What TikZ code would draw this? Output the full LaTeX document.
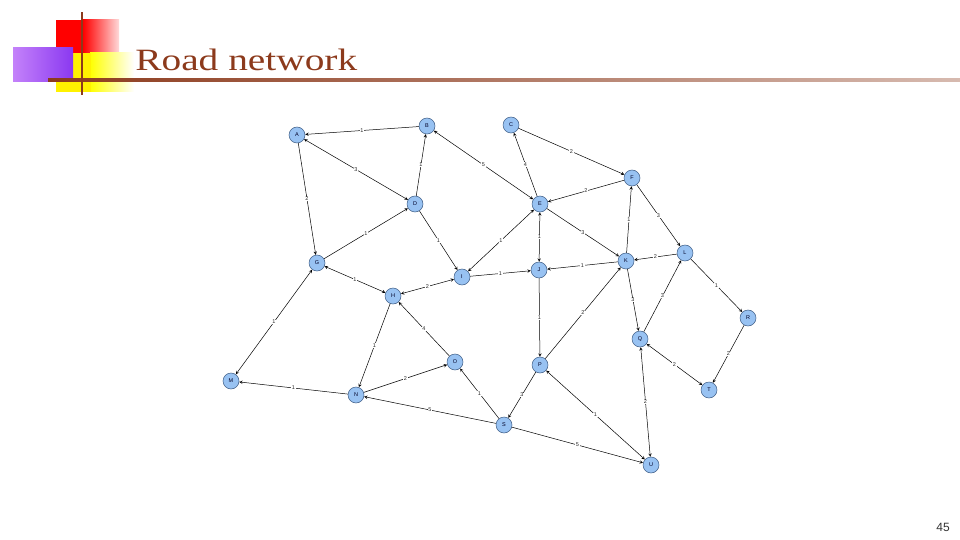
\documentclass[tikz,border=0pt]{standalone}
\usepackage{fontspec}
\setmainfont{Liberation Serif}
\setsansfont{Liberation Sans}
\usepackage{xcolor}
\usetikzlibrary{arrows}
\definecolor{titlebrown}{RGB}{140,58,28}
\definecolor{nodeblue}{RGB}{152,194,242}
\definecolor{nodeedge}{RGB}{60,90,130}
\definecolor{lightpurple}{RGB}{196,130,250}
\definecolor{deeppurple}{RGB}{138,56,240}
\tikzset{
  city/.style={circle, draw=nodeedge, fill=nodeblue, line width=0.5pt, minimum size=16pt, inner sep=0pt,
    font=\sffamily\fontsize{5.5}{5.5}\selectfont, text=black!85!blue},
  wgt/.style={fill=white, inner sep=0.5pt, font=\sffamily\fontsize{5.5}{5.5}\selectfont, text=black!85}
}

\begin{document}
\begin{tikzpicture}[->,>=stealth,x=1pt,y=-1pt,line width=0.5pt]
      \useasboundingbox (0,0) rectangle (960,540);

      % Slide header
      \shade[left color=red, right color=red!15] (83,20) rectangle (119,53);
      \fill[red] (56,20) rectangle (83.5,53);
      \shade[left color=yellow, right color=white] (90,53) rectangle (134,92);
      \fill[yellow] (56,53) rectangle (90.5,92);
      \shade[left color=lightpurple, right color=deeppurple] (13,48) rectangle (73,82);
      \shade[left color=titlebrown, right color=titlebrown!35] (48,78.8) rectangle (960,81.6);
      \fill[titlebrown] (80.5,12) rectangle (83.2,95);
      \node[anchor=base west, font=\fontsize{31}{31}\selectfont, text=titlebrown, xscale=1.27, inner sep=0pt] (title) at (135,71) {Road network};
      \node[font=\sffamily\fontsize{12}{12}\selectfont, text=black!80] (pageno) at (943,527) {45};

      % Cities, top row
      \node[city] (A) at (297,135) {A};
      \node[city] (B) at (427,126) {B};
      \node[city] (C) at (511,125) {C};
      \node[city] (D) at (415,204) {D};
      \node[city] (E) at (540,204) {E};
      \node[city] (F) at (632,178) {F};

      % Cities, middle
      \node[city] (G) at (317,263) {G};
      \node[city] (H) at (393,296) {H};
      \node[city] (I) at (462,277) {I};
      \node[city] (J) at (539,270) {J};
      \node[city] (K) at (626,261) {K};
      \node[city] (L) at (685,253) {L};

      % Cities, bottom
      \node[city] (M) at (231,381) {M};
      \node[city] (N) at (356,395) {N};
      \node[city] (O) at (455,362) {O};
      \node[city] (P) at (540,365) {P};
      \node[city] (Q) at (640,339) {Q};
      \node[city] (R) at (748,318) {R};
      \node[city] (S) at (504,425) {S};
      \node[city] (T) at (709,390) {T};
      \node[city] (U) at (651,465) {U};

      % One-way roads
      \path[every node/.style=wgt]
            (B) edge node {1} (A)
            (A) edge node {2} (G)
            (D) edge node {1} (B)
            (E) edge node {4} (C)
            (C) edge node {2} (F)
            (F) edge node {2} (E)
            (G) edge node {1} (D)
            (D) edge node {1} (I)
            (E) edge node {3} (K)
            (I) edge node {1} (J)
            (K) edge node {1} (J)
            (K) edge node {1} (F)
            (F) edge node {3} (L)
            (L) edge node {2} (K)
            (L) edge node {1} (R)
            (R) edge node {2} (T)
            (Q) edge node {3} (L)
            (K) edge node {3} (Q)
            (P) edge node {2} (K)
            (J) edge node {1} (P)
            (P) edge node {3} (S)
            (S) edge node {1} (O)
            (S) edge node {5} (U)
            (S) edge node {5} (N)
            (N) edge node {2} (O)
            (O) edge node {4} (H)
            (H) edge node {1} (N)
            (N) edge node {1} (M)
            ;

      % Two-way roads
      \path[<->, every node/.style=wgt]
            (A) edge node {3} (D)
            (B) edge node {5} (E)
            (G) edge node {1} (H)
            (H) edge node {2} (I)
            (E) edge node {1} (I)
            (E) edge node {1} (J)
            (Q) edge node {2} (T)
            (Q) edge node {2} (U)
            (P) edge node {1} (U)
            (M) edge node {1} (G)
            ;
\end{tikzpicture}
\end{document}
